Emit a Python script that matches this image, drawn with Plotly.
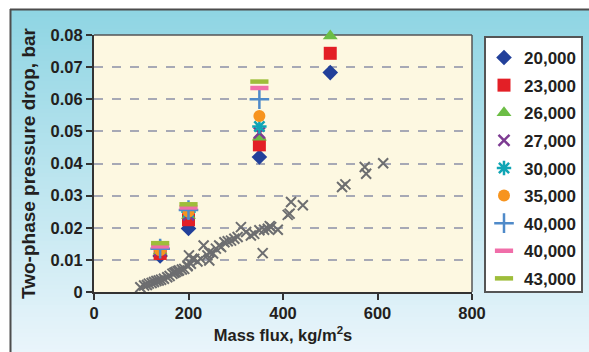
import plotly.graph_objects as go

# ---- data ----
x_levels = [140, 200, 350, 500]
s20000 = [0.0112, 0.0198, 0.0420, 0.0683]
s23000 = [0.0120, 0.0225, 0.0458, 0.0743]
s26000 = [0.0128, 0.0238, 0.0482, 0.0797]
s27000 = [0.0130, 0.0240, 0.0495, None]
s30000 = [0.0138, 0.0250, 0.0515, None]
s35000 = [0.0130, 0.0250, 0.0548, None]
s40000a = [0.0135, 0.0255, 0.0600, None]
s40000b = [0.0142, 0.0263, 0.0635, None]
s43000 = [0.0152, 0.0273, 0.0655, None]

gray_x = [98, 106, 112, 116, 122, 127, 132, 137, 142, 148, 155, 160, 166, 170, 173, 177,
          180, 186, 191, 198, 198, 205, 208, 201, 212, 219, 226, 232, 240, 244, 244, 252,
          258, 265, 269, 276, 283, 290, 297, 304, 311, 322, 332, 339, 350, 357, 360, 368,
          372, 375, 389, 410, 414, 417, 442, 525, 532, 573, 576, 612]
gray_y = [0.0015, 0.0020, 0.0022, 0.0026, 0.0028, 0.0031, 0.0034, 0.0036, 0.0038, 0.0041,
          0.0046, 0.0050, 0.0057, 0.0060, 0.0062, 0.0065, 0.0067, 0.0070, 0.0072, 0.0080,
          0.0083, 0.0088, 0.0103, 0.0114, 0.0103, 0.0095, 0.0103, 0.0145, 0.0114, 0.0124,
          0.0098, 0.0120, 0.0135, 0.0145, 0.0140, 0.0155, 0.0158, 0.0160, 0.0166, 0.0171,
          0.0202, 0.0187, 0.0176, 0.0181, 0.0192, 0.0121, 0.0194, 0.0197, 0.0205, 0.0202,
          0.0194, 0.0240, 0.0244, 0.0280, 0.0270, 0.0327, 0.0335, 0.0389, 0.0368, 0.0401]

x_ticks = [0, 200, 400, 600, 800]
y_ticks = [0, 0.01, 0.02, 0.03, 0.04, 0.05, 0.06, 0.07, 0.08]
y_tick_text = ["0", "0.01", "0.02", "0.03", "0.04", "0.05", "0.06", "0.07", "0.08"]

series = [
    ("20,000", s20000, dict(symbol="diamond", size=12, color="#22409a")),
    ("23,000", s23000, dict(symbol="square", size=13, color="#e31f26")),
    ("26,000", s26000, dict(symbol="triangle-up", size=13, color="#6cbd45")),
    ("27,000", s27000, dict(symbol="x-thin-open", size=11, color="#7d3c92",
                            line=dict(width=2.5, color="#7d3c92"))),
    ("30,000", s30000, dict(symbol="asterisk-open", size=12, color="#10a5b5",
                            line=dict(width=2.5, color="#10a5b5"))),
    ("35,000", s35000, dict(symbol="circle", size=12, color="#f7941e")),
    ("40,000", s40000a, dict(symbol="cross-thin-open", size=14, color="#4f8ac9",
                             line=dict(width=2.5, color="#4f8ac9"))),
    ("40,000 ", s40000b, dict(symbol="line-ew-open", size=13, color="#f06ea9",
                              line=dict(width=4.5, color="#f06ea9"))),
    ("43,000", s43000, dict(symbol="line-ew-open", size=13, color="#9ebd3a",
                            line=dict(width=4.5, color="#9ebd3a"))),
]

fig = go.Figure()
fig.add_trace(go.Scatter(x=gray_x, y=gray_y, mode="markers", showlegend=False,
                         cliponaxis=False,
                         marker=dict(symbol="x-thin-open", size=10, color="#6d6e70",
                                     line=dict(width=2, color="#6d6e70"))))
for i, (name, ys, mk) in enumerate(series):
    fig.add_trace(go.Scatter(x=x_levels, y=ys, mode="markers", name=name,
                             legendgroup=f"g{i}", marker=mk, cliponaxis=False))

# ---- background ----
W, H = 589, 352
L, R, T, B = 94, 472, 35, 292
pw, ph = R - L, B - T

def px_x(p):
    return (p - L) / pw

def px_y(p):
    return (B - p) / ph

shapes = []
top_c = (0x8f, 0xd5, 0xe3)
bot_c = (0xea, 0xf5, 0xfb)
y0 = 9
step = 4
yy = y0
while yy < H + 4:
    t = (yy - y0) / (H - y0)
    c = tuple(int(round(top_c[k] + (bot_c[k] - top_c[k]) * t)) for k in range(3))
    shapes.append(dict(type="rect", xref="paper", yref="paper", layer="below",
                       x0=px_x(10), x1=px_x(W + 5), y0=px_y(yy + step + 0.5), y1=px_y(yy),
                       fillcolor="rgb(%d,%d,%d)" % c, line=dict(width=0)))
    yy += step
# plot area cream
shapes.append(dict(type="rect", xref="paper", yref="paper", layer="below",
                   x0=0, x1=1, y0=0, y1=1, fillcolor="#fdf8e1", line=dict(width=0)))
# outer dark border
shapes.append(dict(type="line", xref="paper", yref="paper", layer="above",
                   x0=px_x(10), x1=px_x(W + 5), y0=px_y(9.5), y1=px_y(9.5),
                   line=dict(color="#4d4d4d", width=2)))
shapes.append(dict(type="line", xref="paper", yref="paper", layer="above",
                   x0=px_x(10.5), x1=px_x(10.5), y0=px_y(9), y1=px_y(H + 5),
                   line=dict(color="#4d4d4d", width=2)))
# thin frame on top/right of plot area
shapes.append(dict(type="line", xref="paper", yref="paper", layer="below",
                   x0=0, x1=1, y0=1, y1=1, line=dict(color="#555555", width=1.5)))
shapes.append(dict(type="line", xref="paper", yref="paper", layer="below",
                   x0=1, x1=1, y0=0, y1=1, line=dict(color="#555555", width=1.5)))
# legend box
shapes.append(dict(type="rect", xref="paper", yref="paper", layer="above",
                   x0=px_x(485), x1=px_x(582), y0=px_y(292), y1=px_y(37),
                   fillcolor="white", line=dict(color="#555555", width=2)))

font_family = "Liberation Sans, Arial, sans-serif"

fig.update_layout(
    width=W, height=H,
    margin=dict(l=L, r=W - R, t=T, b=H - B, autoexpand=False),
    paper_bgcolor="white",
    plot_bgcolor="#fdf8e1",
    shapes=shapes,
    font=dict(family=font_family, color="#231f20"),
    showlegend=True,
    legend=dict(x=px_x(484), y=px_y(40), xanchor="left", yanchor="top",
                bgcolor="rgba(0,0,0,0)", borderwidth=0,
                font=dict(size=17, family=font_family, color="#231f20", weight="bold"),
                traceorder="grouped", tracegroupgap=2.5, itemwidth=30),
    xaxis=dict(range=[0, 800], tickvals=x_ticks, showgrid=False, zeroline=False,
               automargin=False,
               showline=True, linecolor="#333333", linewidth=2, mirror=False,
               ticks="outside", ticklen=6, tickwidth=1.5, tickcolor="#333333",
               ticklabelstandoff=-1,
               tickfont=dict(size=16.5, weight="bold"),
               title=dict(text="Mass flux, kg/m<sup>2</sup>s", standoff=9,
                          font=dict(size=16.5, weight="bold"))),
    yaxis=dict(range=[0, 0.08], tickvals=y_ticks, ticktext=y_tick_text,
               automargin=False,
               showgrid=True, gridcolor="#a7a9b5", griddash="dash", gridwidth=1.5,
               zeroline=False, showline=True, linecolor="#333333", linewidth=2,
               ticks="outside", ticklen=6, tickwidth=1.5, tickcolor="#333333",
               tickfont=dict(size=16.5, weight="bold"),
               title=dict(text="Two-phase pressure drop, bar", standoff=10,
                          font=dict(size=19, weight="bold"))),
)

fig.write_html("out.html")
